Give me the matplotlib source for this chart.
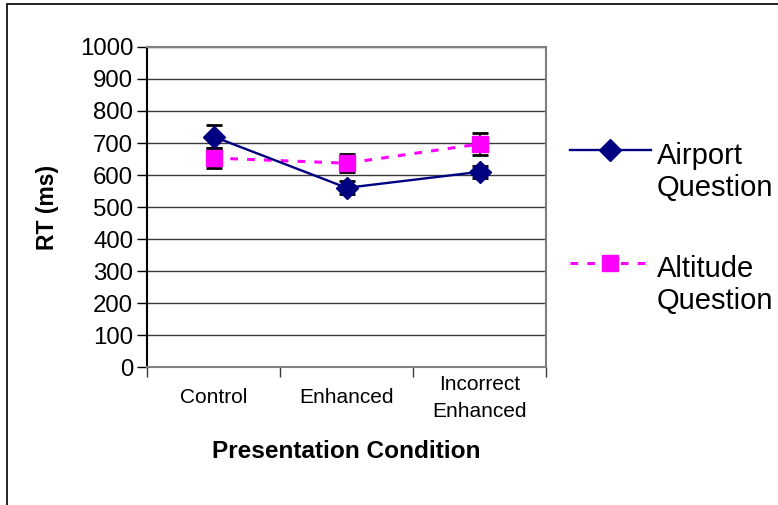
import numpy as np
import matplotlib.pyplot as plt
from matplotlib.lines import Line2D
from matplotlib.patches import Rectangle

plt.rcParams['font.family'] = ['Liberation Sans', 'DejaVu Sans']

# Datos
condiciones = ['Control', 'Enhanced', 'Incorrect\nEnhanced']
airport = [720, 560, 610]
airport_err = [37, 20, 18]
altitude = [653, 637, 697]
altitude_err = [30, 28, 34]
yticks = list(range(0, 1001, 100))

fig = plt.figure(figsize=(7.78, 5.05), dpi=100)
ax = fig.add_axes([0.189, 0.273, 0.513, 0.634])

x = np.arange(len(condiciones))

# Rejilla
for v in yticks[1:]:
    ax.axhline(v, color='#3a3a3a', lw=1, zorder=0)

# Barras de error (detrás de los marcadores)
ax.errorbar(x, altitude, yerr=altitude_err, fmt='none', ecolor='black',
            elinewidth=1.3, capsize=6, capthick=2, zorder=1)
ax.errorbar(x, airport, yerr=airport_err, fmt='none', ecolor='black',
            elinewidth=1.3, capsize=6, capthick=2, zorder=1)
ax.plot(x, altitude, color='#ff00ff', ls=(0, (2.5, 3)), lw=2.2, marker='s',
        ms=12, mec='#ff00ff', zorder=2)
ax.plot(x, airport, color='#000080', lw=1.7, marker='D', ms=11, zorder=3)

ax.set_xlim(-0.5, 2.5)
ax.set_ylim(0, 1000)
ax.set_yticks(yticks)
ax.set_xticks([-0.5, 0.5, 1.5, 2.5])
ax.set_xticklabels([])
ax.set_xticks(x, minor=True)
ax.set_xticklabels(condiciones, minor=True, fontsize=15, linespacing=1.55)
for lab in ax.get_xticklabels(minor=True):
    lab.set_verticalalignment('center')
ax.tick_params(axis='x', which='minor', length=0, pad=22)
ax.tick_params(axis='x', which='major', length=7, width=1, color='#3a3a3a')
ax.tick_params(axis='y', length=7, width=1, labelsize=17.3, pad=3)

for s in ['top', 'right', 'bottom']:
    ax.spines[s].set_color('#808080')
    ax.spines[s].set_linewidth(1.5)
ax.spines['left'].set_color('black')
ax.spines['left'].set_linewidth(1.5)

ax.set_xlabel('Presentation Condition', fontsize=17.6, fontweight='bold', labelpad=14)
ax.set_ylabel('RT (ms)', fontsize=16.5, fontweight='bold', labelpad=15)

# Leyenda manual
fig.add_artist(Line2D([570 / 778, 651 / 778], [1 - 150 / 505] * 2, color='#000080',
                      lw=1.7, transform=fig.transFigure))
fig.add_artist(Line2D([610 / 778], [1 - 150 / 505], color='#000080', marker='D',
                      ms=11, transform=fig.transFigure))
fig.add_artist(Line2D([570 / 778, 651 / 778], [1 - 263 / 505] * 2, color='#ff00ff',
                      lw=2.2, ls=(0, (2.5, 3)), transform=fig.transFigure))
fig.add_artist(Line2D([610 / 778], [1 - 263 / 505], color='#ff00ff', marker='s',
                      ms=12, transform=fig.transFigure))
fig.text(657 / 778, 1 - 142 / 505, 'Airport\nQuestion', fontsize=21, va='top',
         linespacing=1.2)
fig.text(657 / 778, 1 - 255 / 505, 'Altitude\nQuestion', fontsize=21, va='top',
         linespacing=1.2)

# Marco exterior
fig.add_artist(Rectangle((7 / 778, -0.1), 1.2, 1.1 - 4 / 505, fill=False,
                         ec='black', lw=1.2, transform=fig.transFigure))

fig.savefig('out.png', dpi=100)
